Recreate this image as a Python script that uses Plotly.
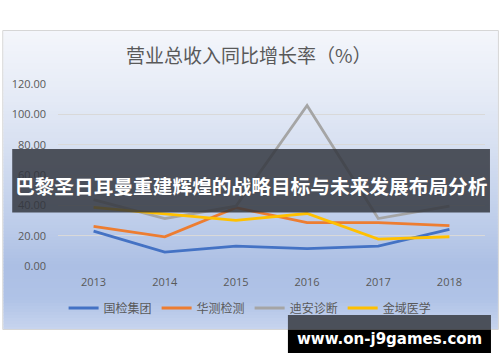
import plotly.graph_objects as go

years = ["2013", "2014", "2015", "2016", "2017", "2018"]
guojian = [23.0, 9.1, 13.1, 11.4, 13.1, 24.2]
huace = [26.2, 19.2, 38.5, 28.6, 28.6, 26.6]
dian = [43.8, 31.3, 39.4, 105.8, 31.3, 39.4]
jinyu = [38.7, 34.6, 30.1, 34.6, 17.7, 19.3]
series_names = ["国检集团", "华测检测", "迪安诊断", "金域医学"]
series_colors = ["#4472C4", "#ED7D31", "#A5A5A5", "#FFC000"]
title_text = "营业总收入同比增长率（%）"
banner_text = "巴黎圣日耳曼重建辉煌的战略目标与未来发展布局分析"
site_text = "www.on-j9games.com"

W, H = 500, 362
ML, MR, MT, MB = 56, 15, 84, 96
PW, PH = W - ML - MR, H - MT - MB


def px(x):
    return (x - ML) / PW


def py(y):
    return (H - MB - y) / PH


CJK = "Noto Sans CJK SC"
fig = go.Figure()
for name, vals, col in zip(series_names, [guojian, huace, dian, jinyu], series_colors):
    fig.add_trace(go.Scatter(x=years, y=vals, name=name, mode="lines",
                             line=dict(color=col, width=2.8)))

shapes = []
# card gradient
stops = [(30, (244, 246, 251)), (84, (232, 237, 247)), (150, (214, 223, 241)),
         (230, (187, 203, 233)), (265, (172, 191, 228)), (300, (176, 195, 231)),
         (330, (200, 213, 238))]


def col_at(y):
    for (y0, c0), (y1, c1) in zip(stops[:-1], stops[1:]):
        if y0 <= y <= y1:
            t = (y - y0) / (y1 - y0)
            return tuple(round(a + (b - a) * t) for a, b in zip(c0, c1))
    return stops[-1][1]


y = 30
step = 3
while y < 329:
    c = col_at(y + step / 2)
    shapes.append(dict(type="rect", xref="paper", yref="paper", layer="below",
                       x0=px(1), x1=px(498), y0=py(min(y + step + 0.6, 329)), y1=py(y),
                       fillcolor="rgb(%d,%d,%d)" % c, line=dict(width=0)))
    y += step
shapes.append(dict(type="rect", xref="paper", yref="paper", layer="below",
                   x0=px(0.5), x1=px(498.5), y0=py(329.5), y1=py(30.5),
                   fillcolor="rgba(0,0,0,0)", line=dict(color="#d6d6d6", width=1)))
# banner
shapes.append(dict(type="rect", xref="paper", yref="paper", layer="above",
                   x0=px(10), x1=px(490), y0=py(212.5), y1=py(149),
                   fillcolor="rgba(50,54,62,0.84)", line=dict(width=0)))
# website box
shapes.append(dict(type="rect", xref="paper", yref="paper", layer="above",
                   x0=px(287), x1=px(491), y0=py(329.5), y1=py(315),
                   fillcolor="#4b505a", line=dict(width=0)))
shapes.append(dict(type="rect", xref="paper", yref="paper", layer="above",
                   x0=px(287), x1=px(491), y0=py(353), y1=py(329.5),
                   fillcolor="#000000", line=dict(width=0)))

annotations = [
    dict(text=title_text, xref="paper", yref="paper", x=px(248), y=py(55),
         xanchor="center", yanchor="middle", showarrow=False,
         font=dict(family=CJK, size=19, color="#595959")),
    dict(text="<b>" + banner_text + "</b>", xref="paper", yref="paper", x=px(250), y=py(185),
         xanchor="center", yanchor="middle", showarrow=False,
         font=dict(family=CJK, size=19.7, color="#ffffff")),
    dict(text="<b>" + site_text + "</b>", xref="paper", yref="paper", x=px(389), y=py(339),
         xanchor="center", yanchor="middle", showarrow=False,
         font=dict(family="DejaVu Sans", size=15, color="#ffffff")),
]

fig.update_layout(
    width=W, height=H,
    margin=dict(l=ML, r=MR, t=MT, b=MB, pad=0),
    paper_bgcolor="#ffffff", plot_bgcolor="rgba(0,0,0,0)",
    font=dict(family=CJK, color="#595959"),
    shapes=shapes, annotations=annotations,
    showlegend=True,
    legend=dict(orientation="h", x=px(249), xanchor="center", y=py(308), yanchor="middle",
                bgcolor="rgba(0,0,0,0)", font=dict(family=CJK, size=12, color="#595959"),
                itemwidth=30, tracegroupgap=0),
    xaxis=dict(type="category", range=[-0.5, 5.5], showgrid=False, zeroline=False,
               showline=False, ticks="",
               tickfont=dict(family="Open Sans", size=11, color="#595959"),
               ticklabelstandoff=8, fixedrange=True),
    yaxis=dict(range=[0, 120], dtick=20, tickformat=".2f", showgrid=True,
               gridcolor="#d9d9d9", gridwidth=1, zeroline=False, showline=False, ticks="",
               tickfont=dict(family="Open Sans", size=11, color="#595959"),
               ticklabelstandoff=11, fixedrange=True),
)

fig.write_html("out.html", config={"displayModeBar": False})
